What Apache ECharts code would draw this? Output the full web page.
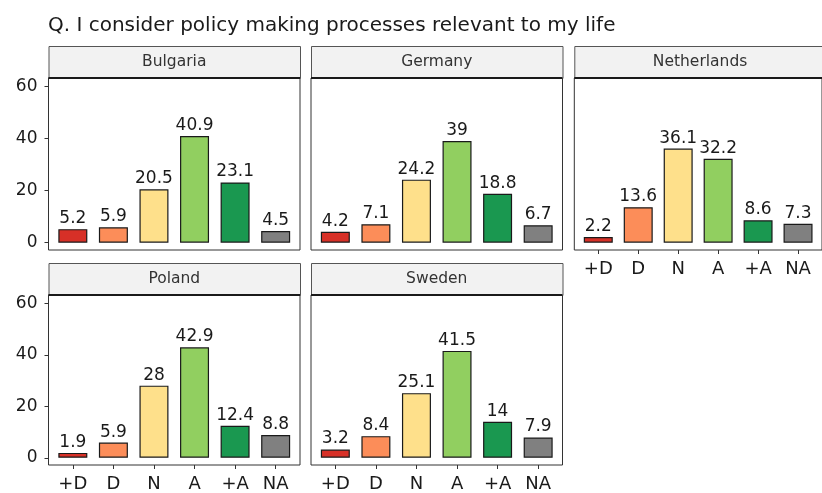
<!DOCTYPE html>
<html>
<head>
<meta charset="utf-8">
<script src="https://cdn.jsdelivr.net/npm/echarts@6/dist/echarts.min.js"></script>
<style>
  html, body { margin: 0; padding: 0; background: #fff; }
  #chart { width: 822px; height: 493px; }
</style>
</head>
<body>
<div id="chart"></div>
<script>
// answer categories and their fill colours
var categories = ['+D', 'D', 'N', 'A', '+A', 'NA']
var catColors = ['#d73027', '#fc8d59', '#fee08b', '#91cf60', '#1a9850', '#808080']

var countries = ['Bulgaria', 'Germany', 'Netherlands', 'Poland', 'Sweden']
var bulgaria = [5.2, 5.9, 20.5, 40.9, 23.1, 4.5]
var germany = [4.2, 7.1, 24.2, 39, 18.8, 6.7]
var netherlands = [2.2, 13.6, 36.1, 32.2, 8.6, 7.3]
var poland = [1.9, 5.9, 28, 42.9, 12.4, 8.8]
var sweden = [3.2, 8.4, 25.1, 41.5, 14, 7.9]
var values = [bulgaria, germany, netherlands, poland, sweden]

var yTicks = [0, 20, 40, 60]

var FONT = 'DejaVu Sans'

// facet layout (pixels)
var colLeft = [48.5, 311, 574.3]
var panelW = 251.5
var rowTop = [78, 295]
var panelH = 172
var stripH = 32

var grids = [], xAxes = [], yAxes = [], series = [], graphics = []

countries.forEach(function (name, i) {
  var col = i % 3
  var row = Math.floor(i / 3)
  var left = colLeft[col]
  var top = rowTop[row]
  // x labels only where no panel sits below
  var showX = (row === 1) || (col === 2)
  var showY = col === 0

  grids.push({
    left: left, top: top, width: panelW, height: panelH,
    show: true, borderColor: '#333', borderWidth: 1, backgroundColor: '#fff'
  })
  xAxes.push({
    type: 'value', gridIndex: i, min: -0.6, max: 5.6,
    splitLine: { show: false },
    axisLine: { show: false, onZero: false },
    axisTick: { show: showX, length: 4, lineStyle: { color: '#333' }, customValues: [0, 1, 2, 3, 4, 5] },
    axisLabel: {
      show: showX, margin: 10, fontFamily: FONT, fontSize: 18, color: '#1a1a1a',
      customValues: [0, 1, 2, 3, 4, 5],
      formatter: function (v) { return categories[Math.round(v)] }
    }
  })
  yAxes.push({
    type: 'value', gridIndex: i, min: -2.8, max: 63.2,
    splitLine: { show: false },
    axisLine: { show: false, onZero: false },
    axisTick: { show: showY, length: 4, lineStyle: { color: '#333' }, customValues: yTicks },
    axisLabel: { show: showY, margin: 11, fontFamily: FONT, fontSize: 17, color: '#1a1a1a', customValues: yTicks }
  })
  series.push({
    type: 'bar', xAxisIndex: i, yAxisIndex: i,
    barWidth: 29,
    data: values[i].map(function (v, k) {
      return { value: [k, v], itemStyle: { color: catColors[k] } }
    }),
    itemStyle: { borderColor: '#1a1a1a', borderWidth: 1.2 },
    label: {
      show: true, position: 'top', distance: 2,
      fontFamily: FONT, fontSize: 17, color: '#1a1a1a',
      formatter: function (p) { return p.value[1] }
    },
    animation: false
  })

  // facet strip
  graphics.push({
    type: 'rect', left: left, top: top - stripH,
    shape: { width: panelW, height: stripH },
    style: { fill: '#f2f2f2', stroke: '#555', lineWidth: 1 }
  })
  graphics.push({
    type: 'line',
    shape: { x1: left, y1: top, x2: left + panelW, y2: top },
    style: { stroke: '#1a1a1a', lineWidth: 2 }
  })
  graphics.push({
    type: 'text', x: left + panelW / 2, y: top - stripH / 2,
    style: {
      text: name, fontFamily: FONT, fontSize: 15.5, fill: '#333',
      align: 'center', verticalAlign: 'middle'
    }
  })
})

var chart = echarts.init(document.getElementById('chart'))
chart.setOption({
  animation: false,
  title: {
    text: 'Q. I consider policy making processes relevant to my life',
    left: 43, top: 11,
    textStyle: { fontFamily: FONT, fontSize: 20, fontWeight: 'normal', color: '#1a1a1a' }
  },
  grid: grids,
  xAxis: xAxes,
  yAxis: yAxes,
  series: series,
  graphic: graphics
})
</script>
</body>
</html>
